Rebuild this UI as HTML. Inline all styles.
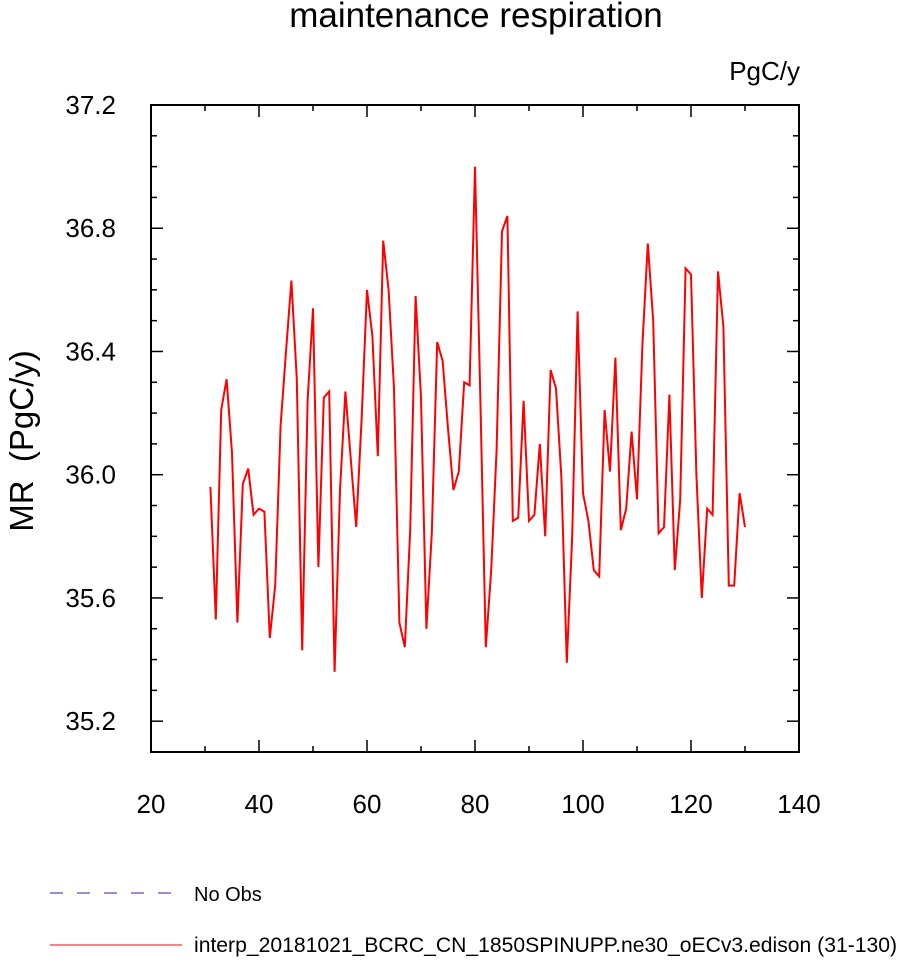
<!DOCTYPE html>
<html><head><meta charset="utf-8"><style>
body{margin:0;background:#fff}
svg text{font-family:"Liberation Sans",sans-serif}
</style></head><body>
<svg id="chart" width="898" height="958" xmlns="http://www.w3.org/2000/svg">
<text x="476" y="27" font-size="35" text-anchor="middle">maintenance respiration</text>
<text x="800" y="80" font-size="26" text-anchor="end">PgC/y</text>
<text transform="translate(33,441) rotate(-90)" font-size="33" text-anchor="middle" style="white-space:pre" xml:space="preserve">MR  (PgC/y)</text>
<g id="axes"></g>
<polyline id="series" fill="none" stroke="#ff0000" stroke-width="2"/>
<rect x="151" y="105" width="648" height="647" fill="none" stroke="#000" stroke-width="2"/>
<line x1="50" y1="893" x2="182" y2="893" stroke="#2222bb" stroke-width="1" stroke-dasharray="13,14"/>
<text x="194" y="901" font-size="20">No Obs</text>
<line x1="50" y1="945" x2="182" y2="945" stroke="#ff0000" stroke-width="1"/>
<text x="194" y="952" font-size="21" textLength="703" lengthAdjust="spacingAndGlyphs">interp_20181021_BCRC_CN_1850SPINUPP.ne30_oECv3.edison (31-130)</text>
</svg>
<script>
const years = [];
for (let y = 31; y <= 130; y++) years.push(y);
const values = [35.96,35.53,36.21,36.31,36.07,35.52,35.97,36.02,35.87,35.89,
35.88,35.47,35.64,36.16,36.40,36.63,36.31,35.43,36.24,36.54,
35.70,36.25,36.27,35.36,35.95,36.27,36.05,35.83,36.18,36.60,
36.45,36.06,36.76,36.60,36.28,35.52,35.44,35.82,36.58,36.25,
35.50,35.81,36.43,36.37,36.15,35.95,36.01,36.30,36.29,37.00,
36.24,35.44,35.69,36.08,36.79,36.84,35.85,35.86,36.24,35.85,
35.87,36.10,35.80,36.34,36.28,35.99,35.39,35.80,36.53,35.94,
35.85,35.69,35.67,36.21,36.01,36.38,35.82,35.89,36.14,35.92,
36.42,36.75,36.50,35.81,35.83,36.26,35.69,35.92,36.67,36.65,
36.00,35.60,35.89,35.87,36.66,36.48,35.64,35.64,35.94,35.83];
const xTicks = [20,40,60,80,100,120,140];
const yTicks = [35.2,35.6,36.0,36.4,36.8,37.2];
const X0=151,X1=799,Y0=105,Y1=752;
const xMin=20,xMax=140,yMin=35.1,yMax=37.2;
const xs=v=>X0+(v-xMin)/(xMax-xMin)*(X1-X0);
const ys=v=>Y1-(v-yMin)/(yMax-yMin)*(Y1-Y0);
const NS="http://www.w3.org/2000/svg";
const g=document.getElementById('axes');
function ln(x1,y1,x2,y2,name){const l=document.createElementNS(NS,'line');
l.setAttribute('x1',x1);l.setAttribute('y1',y1);l.setAttribute('x2',x2);l.setAttribute('y2',y2);
l.setAttribute('stroke','#000');l.setAttribute('stroke-width','1.5');


g.appendChild(l);}
function tx(x,y,s,anchor,name){const t=document.createElementNS(NS,'text');
t.setAttribute('x',x);t.setAttribute('y',y);t.setAttribute('font-size','26');t.setAttribute('text-anchor',anchor);t.textContent=s;


g.appendChild(t);}
for(let v=xMin;v<=xMax+0.01;v+=10){const x=xs(v);const major=Math.abs(v%20)<0.01;const L=major?12:6;
ln(x,Y1,x,Y1-L,'x-tick');ln(x,Y0,x,Y0+L,'x-tick-top');}
xTicks.forEach(v=>tx(xs(v),Y1+61,String(v),'middle','x-tick-label'));
for(let i=0;i<=21;i++){const v=yMin+i*0.1;const y=ys(v);
const major=yTicks.some(t=>Math.abs(t-v)<0.001);const L=major?12:6;
ln(X0,y,X0+L,y,'y-tick');ln(X1,y,X1-L,y,'y-tick-right');}
yTicks.forEach(v=>tx(X0-35,ys(v)+9,v.toFixed(1),'end','y-tick-label'));
document.getElementById('series').setAttribute('points',years.map((yr,i)=>xs(yr).toFixed(1)+','+ys(values[i]).toFixed(1)).join(' '));
</script>
</body></html>
